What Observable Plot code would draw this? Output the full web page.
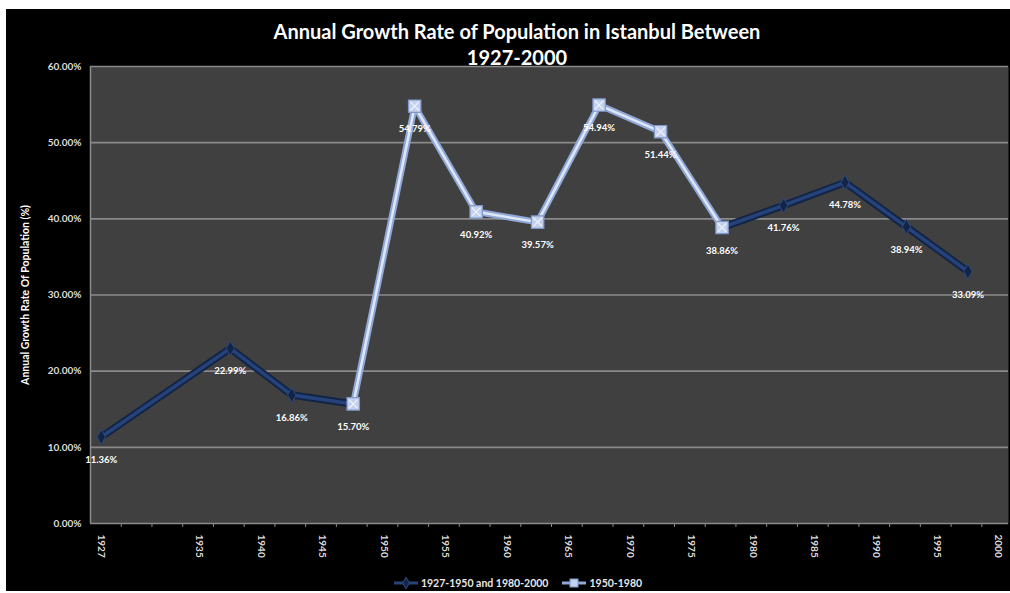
<!DOCTYPE html>
<html>
<head>
<meta charset="utf-8">
<script src="https://cdn.jsdelivr.net/npm/d3@7"></script>
<script src="https://cdn.jsdelivr.net/npm/@observablehq/plot@0.6"></script>
<style>
  html, body { margin: 0; padding: 0; background: #ffffff; }
  #wrap { position: absolute; left: 6px; top: 9px; width: 1004px; height: 582px; background: #000; overflow: hidden; font-family: Lato, "Open Sans", sans-serif; }
  #title { position: absolute; left: 9px; top: 9px; width: 1004px; text-align: center; color: #fff; font-weight: bold; font-size: 20px; line-height: 26px; z-index: 2; }
  #chart { position: absolute; left: 0; top: 0; }
  #legend { position: absolute; left: 0; top: 568px; width: 1004px; display: flex; justify-content: center; gap: 14px; color: #e8e8e8; font-size: 10.5px; font-weight: bold; padding-left: 20px; box-sizing: border-box; }
  .item { display: flex; align-items: center; gap: 3px; }
</style>
</head>
<body>
<div id="wrap">
  <div id="title">Annual Growth Rate of Population in Istanbul Between<br>1927-2000</div>
  <div id="chart"></div>
  <div id="legend"></div>
</div>
<script>
// ---- data ----
const seriesNames = ["1927-1950 and 1980-2000", "1950-1980"];
const darkYears = [1927, 1937.5, 1942.5, 1947.5, 1977.5, 1982.5, 1987.5, 1992.5, 1997.5];
const darkRates = [11.36, 22.99, 16.86, 15.70, 38.86, 41.76, 44.78, 38.94, 33.09];
const darkPart  = ["a", "a", "a", "a", "b", "b", "b", "b", "b"];
const lightYears = [1947.5, 1952.5, 1957.5, 1962.5, 1967.5, 1972.5, 1977.5];
const lightRates = [15.70, 54.79, 40.92, 39.57, 54.94, 51.44, 38.86];
const xTickYears = [1927, 1935, 1940, 1945, 1950, 1955, 1960, 1965, 1970, 1975, 1980, 1985, 1990, 1995, 2000];
const yTickValues = [0, 0.1, 0.2, 0.3, 0.4, 0.5, 0.6];
const yLabel = "Annual Growth Rate Of Population (%)";

const dark = darkYears.map((x, i) => ({x, y: darkRates[i] / 100, part: darkPart[i]}));
const light = lightYears.map((x, i) => ({x, y: lightRates[i] / 100}));
const labelMap = new Map();
for (const d of [...dark, ...light]) labelMap.set(d.x, d);
const labels = [...labelMap.values()];

const xDomain = [1926.13, 2000.8];
const minorTicks = d3.range(xDomain[0] + 2.5, 2000.9, 2.5);

const plot = Plot.plot({
  width: 1004, height: 560,
  marginTop: 57, marginBottom: 46, marginLeft: 84, marginRight: 2,
  style: {background: "transparent", color: "#dcdcdc", fontFamily: "Lato, 'Open Sans', sans-serif"},
  x: {domain: xDomain},
  y: {domain: [0, 0.6]},
  marks: [
    Plot.frame({fill: "#404040", stroke: null}),
    Plot.gridY(yTickValues, {stroke: "#8a8a8a", strokeOpacity: 1, strokeWidth: 1.6}),
    Plot.ruleX([xDomain[0]], {stroke: "#8a8a8a", strokeWidth: 1.5}),
    Plot.axisY(yTickValues, {tickFormat: d3.format(".2%"), tickSize: 0, tickPadding: 9, fontSize: 10, fontWeight: "bold",
      label: null}),
    Plot.axisY({ticks: [], label: yLabel, labelAnchor: "center", labelArrow: "none", labelOffset: 69, fontSize: 10.5, fontWeight: "bold", color: "#ffffff"}),
    Plot.axisX(xTickYears, {tickRotate: 90, tickSize: 0, tickPadding: 11, tickFormat: d => String(d), fontSize: 10, fontWeight: "bold", label: null}),
    Plot.axisX(minorTicks, {tickSize: 4, tickFormat: () => "", label: null, stroke: "#8a8a8a"}),
    // dark series
    Plot.line(dark, {x: "x", y: "y", z: "part", stroke: "#132446", strokeWidth: 7.5}),
    Plot.line(dark, {x: "x", y: "y", z: "part", stroke: "#25437a", strokeWidth: 3.5}),
    Plot.dot(dark, {x: "x", y: "y", symbol: "diamond", r: 4.5, fill: "#132446", stroke: "#2d4b82", strokeWidth: 1}),
    // light series
    Plot.line(light, {x: "x", y: "y", stroke: "#8fa8d8", strokeWidth: 6.5}),
    Plot.line(light, {x: "x", y: "y", stroke: "#dfe7f6", strokeWidth: 2.5}),
    Plot.dot(light, {x: "x", y: "y", symbol: "square", r: 7, fill: "#c3d1ee", stroke: "#7f97c9", strokeWidth: 1.2}),
    Plot.dot(light, {x: "x", y: "y", symbol: "times", r: 4, stroke: "#eef3fb", strokeWidth: 1.2}),
    // data labels
    Plot.text(labels, {x: "x", y: "y", text: d => d3.format(".2%")(d.y), dy: 23, fill: "#ffffff", fontSize: 9.5, fontWeight: "bold"})
  ]
});
document.getElementById("chart").appendChild(plot);

// legend
const legend = document.getElementById("legend");
const mk = (name, kind) => {
  const item = document.createElement("div");
  item.className = "item";
  const svg = d3.create("svg").attr("width", 24).attr("height", 12);
  if (kind === 0) {
    svg.append("line").attr("x1", 0).attr("x2", 24).attr("y1", 6).attr("y2", 6).attr("stroke", "#27457a").attr("stroke-width", 3);
    svg.append("path").attr("d", d3.symbol(d3.symbolDiamond, 40)()).attr("transform", "translate(12,6)").attr("fill", "#14264a").attr("stroke", "#2d4b82");
  } else {
    svg.append("line").attr("x1", 0).attr("x2", 24).attr("y1", 6).attr("y2", 6).attr("stroke", "#8fa8d8").attr("stroke-width", 3);
    svg.append("rect").attr("x", 8).attr("y", 2).attr("width", 8).attr("height", 8).attr("fill", "#c3d1ee").attr("stroke", "#7f97c9");
  }
  item.appendChild(svg.node());
  const t = document.createElement("span");
  t.textContent = name;
  item.appendChild(t);
  legend.appendChild(item);
};
seriesNames.forEach((n, i) => mk(n, i));
</script>
</body>
</html>
